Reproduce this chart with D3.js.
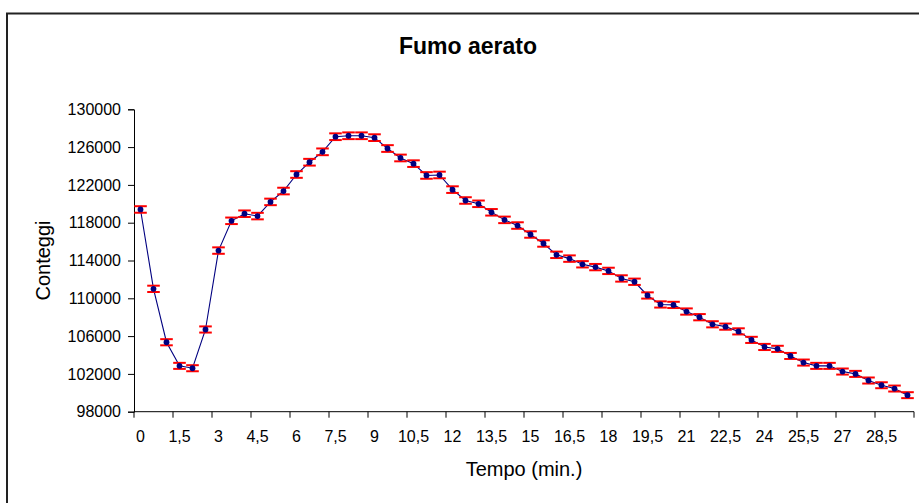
<!DOCTYPE html>
<html>
<head>
<meta charset="utf-8">
<script src="https://cdn.jsdelivr.net/npm/d3@7"></script>
<style>
  html, body { margin: 0; padding: 0; background: #fff; }
  svg { display: block; font-family: "Liberation Sans", Arial, sans-serif; }
</style>
</head>
<body>
<svg id="chart" width="919" height="503"></svg>
<script>
// Sampling times (minutes), one reading every half minute
const times = [
  0, 0.5, 1, 1.5, 2, 2.5, 3, 3.5, 4, 4.5,
  5, 5.5, 6, 6.5, 7, 7.5, 8, 8.5, 9, 9.5,
  10, 10.5, 11, 11.5, 12, 12.5, 13, 13.5, 14, 14.5,
  15, 15.5, 16, 16.5, 17, 17.5, 18, 18.5, 19, 19.5,
  20, 20.5, 21, 21.5, 22, 22.5, 23, 23.5, 24, 24.5,
  25, 25.5, 26, 26.5, 27, 27.5, 28, 28.5, 29, 29.5
];

// Counts per reading
const counts = [
  119400, 111000, 105350, 102850, 102600, 106700, 115050, 118200, 118950, 118700,
  120200, 121350, 123100, 124400, 125500, 127100, 127200, 127200, 127000, 125850,
  124850, 124250, 123000, 123050, 121500, 120350, 120000, 119100, 118300, 117700,
  116750, 115800, 114600, 114200, 113600, 113300, 112900, 112100, 111750, 110300,
  109350, 109300, 108600, 108000, 107250, 107000, 106500, 105600, 104850, 104650,
  103900, 103200, 102850, 102850, 102250, 102000, 101300, 100800, 100450, 99750
];

// Counting uncertainty for each reading
const errors = [
  345, 335, 325, 320, 320, 325, 340, 345, 345, 345,
  345, 350, 350, 355, 355, 355, 355, 355, 355, 355,
  355, 350, 350, 350, 350, 345, 345, 345, 345, 345,
  340, 340, 340, 340, 335, 335, 335, 335, 335, 330,
  330, 330, 330, 330, 325, 325, 325, 325, 325, 325,
  320, 320, 320, 320, 320, 320, 320, 315, 315, 315
];

// Labelled times on the horizontal axis
const xTickLabels = [
  "0", "1,5", "3", "4,5", "6", "7,5", "9", "10,5", "12", "13,5",
  "15", "16,5", "18", "19,5", "21", "22,5", "24", "25,5", "27", "28,5"
];

// Vertical axis ticks
const yTicks = [98000, 102000, 106000, 110000, 114000, 118000, 122000, 126000, 130000];

const svg = d3.select("#chart");
const plot = { left: 134, right: 914, top: 109.3, bottom: 411.7 };

// Outer chart frame
svg.append("rect")
  .attr("x", 7).attr("y", 13.5)
  .attr("width", 1000).attr("height", 1000)
  .attr("fill", "#fff")
  .attr("stroke", "#222")
  .attr("stroke-width", 2);

const x = d3.scaleBand()
  .domain(times)
  .range([plot.left, plot.right])
  .paddingInner(0).paddingOuter(0);

const y = d3.scaleLinear()
  .domain([98000, 130000])
  .range([plot.bottom, plot.top]);

const cx = t => x(t) + x.bandwidth() / 2;
const fmt = t => String(t).replace(".", ",");

// Title
svg.append("text")
  .attr("x", 468).attr("y", 54)
  .attr("text-anchor", "middle")
  .attr("font-size", 23)
  .attr("font-weight", "bold")
  .attr("fill", "#000")
  .text("Fumo aerato");

// Y axis
const yAxis = d3.axisLeft(y)
  .tickValues(yTicks)
  .tickSize(6)
  .tickPadding(7)
  .tickFormat(d => String(d));

const gy = svg.append("g")
  .attr("transform", `translate(${plot.left},0)`)
  .call(yAxis);
gy.select(".domain").attr("stroke", "#000").attr("stroke-width", 1);
gy.selectAll(".tick line").attr("stroke", "#000");
gy.selectAll(".tick text")
  .attr("font-size", 16)
  .attr("font-family", "Liberation Sans, Arial, sans-serif")
  .attr("fill", "#000");

// X axis: tick marks on band edges every third sample, labels centred on samples
const tickEdges = times.filter((t, i) => i % 3 === 0);
const gx = svg.append("g")
  .attr("transform", `translate(0,${plot.bottom})`);
gx.append("line")
  .attr("x1", plot.left).attr("x2", plot.right)
  .attr("y1", 0).attr("y2", 0)
  .attr("stroke", "#000").attr("stroke-width", 1);
gx.selectAll("line.tk")
  .data(tickEdges.concat([null]))
  .join("line")
  .attr("class", "tk")
  .attr("x1", d => d === null ? plot.right : x(d))
  .attr("x2", d => d === null ? plot.right : x(d))
  .attr("y1", 0).attr("y2", 6)
  .attr("stroke", "#000").attr("stroke-width", 1);
gx.selectAll("text.lbl")
  .data(xTickLabels)
  .join("text")
  .attr("class", "lbl")
  .attr("x", (d, i) => cx(times[i * 3]))
  .attr("y", 30.5)
  .attr("text-anchor", "middle")
  .attr("font-size", 16)
  .attr("fill", "#000")
  .text(d => d);

// Axis titles
svg.append("text")
  .attr("x", (plot.left + plot.right) / 2)
  .attr("y", 476)
  .attr("text-anchor", "middle")
  .attr("font-size", 20)
  .attr("fill", "#000")
  .text("Tempo (min.)");

svg.append("text")
  .attr("transform", `translate(49.5,${(plot.top + plot.bottom) / 2}) rotate(-90)`)
  .attr("text-anchor", "middle")
  .attr("font-size", 20)
  .attr("fill", "#000")
  .text("Conteggi");

const data = times.map((t, i) => ({ t, v: counts[i], e: errors[i] }));

// Connecting line
svg.append("path")
  .datum(data)
  .attr("fill", "none")
  .attr("stroke", "#000080")
  .attr("stroke-width", 1.1)
  .attr("d", d3.line().x(d => cx(d.t)).y(d => y(d.v)));

// Error bars
const capHalf = 6.3;
const eb = svg.append("g")
  .attr("stroke", "#ff0000")
  .attr("stroke-width", 2);
eb.selectAll("line.stem")
  .data(data).join("line")
  .attr("class", "stem")
  .attr("x1", d => cx(d.t)).attr("x2", d => cx(d.t))
  .attr("y1", d => y(d.v + d.e)).attr("y2", d => y(d.v - d.e))
  .attr("stroke-width", 1);
eb.selectAll("line.capTop")
  .data(data).join("line")
  .attr("class", "capTop")
  .attr("x1", d => cx(d.t) - capHalf).attr("x2", d => cx(d.t) + capHalf)
  .attr("y1", d => y(d.v + d.e)).attr("y2", d => y(d.v + d.e));
eb.selectAll("line.capBot")
  .data(data).join("line")
  .attr("class", "capBot")
  .attr("x1", d => cx(d.t) - capHalf).attr("x2", d => cx(d.t) + capHalf)
  .attr("y1", d => y(d.v - d.e)).attr("y2", d => y(d.v - d.e));

// Markers
svg.append("g")
  .selectAll("circle")
  .data(data).join("circle")
  .attr("cx", d => cx(d.t))
  .attr("cy", d => y(d.v))
  .attr("r", 2.9)
  .attr("fill", "#000080");
</script>
</body>
</html>
